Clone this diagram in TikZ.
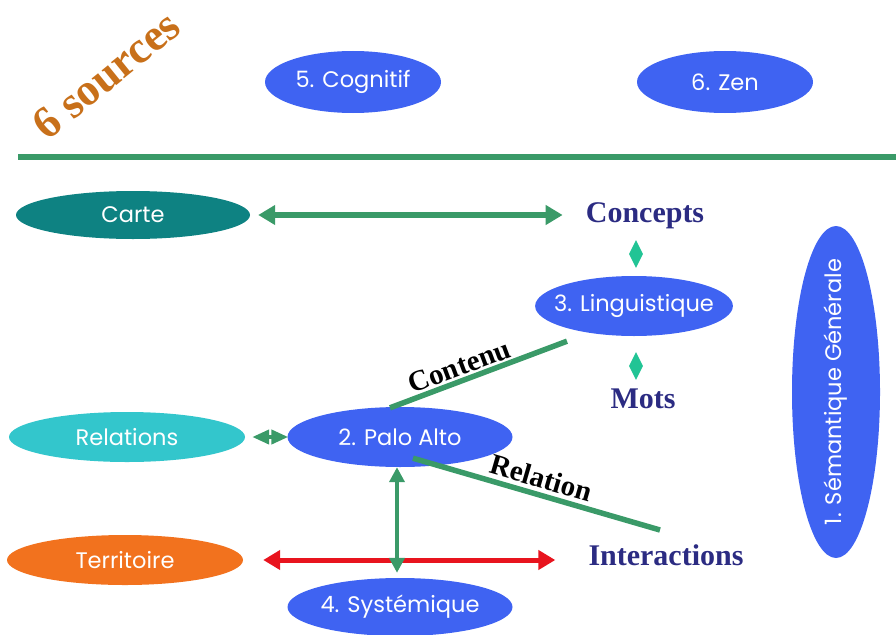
\documentclass[tikz,border=0pt]{standalone}
\usepackage{fontspec}
\setmainfont{Liberation Serif}
\newfontfamily\gothic{Poppins}
\usetikzlibrary{shapes.geometric,arrows.meta}
\definecolor{sblue}{HTML}{3F63F2}
\definecolor{steal}{HTML}{0E8282}
\definecolor{scyan}{HTML}{33C6CC}
\definecolor{sorange}{HTML}{F2721E}
\definecolor{sgreen}{HTML}{3A9A68}
\definecolor{smint}{HTML}{22C495}
\definecolor{sred}{HTML}{E8141E}
\definecolor{snavy}{HTML}{2B2B82}
\definecolor{sbrown}{HTML}{C8701A}
\begin{document}
\begin{tikzpicture}[x=1pt,y=-1pt,
  ell/.style={ellipse, fill=#1, text=white, inner sep=0pt,
    font=\gothic\fontsize{22.5}{26}\selectfont},
  ell/.default=sblue,
  word/.style={text=snavy, font=\bfseries\fontsize{30}{34}\selectfont, inner sep=1pt},
  lab/.style={text=black, font=\bfseries\fontsize{29}{32}\selectfont, inner sep=1pt},
  conn/.style={draw=sgreen, line width=5.5pt},
  dbl/.style={conn, {Triangle[width=19pt,length=17pt]}-{Triangle[width=19pt,length=17pt]}},
  dia/.style={diamond, fill=smint, minimum width=14pt, minimum height=28pt, inner sep=0pt, aspect=0.5}]
\path[use as bounding box] (0,0) rectangle (896,634);

% title
\node[text=sbrown, rotate=39, font=\bfseries\fontsize{45}{48}\selectfont] (title) at (106,75) {6 sources};

% separator
\coordinate (sepL) at (18,157);
\coordinate (sepR) at (896,157);
\draw[draw=sgreen, line width=6pt] (sepL) -- (sepR);

% nodes
\node[ell, minimum width=176pt, minimum height=62pt] (cog) at (353,82) {5. Cognitif};
\node[ell, minimum width=176pt, minimum height=62pt] (zen) at (725,82) {6. Zen};
\node[ell=steal, minimum width=234pt, minimum height=48pt] (carte) at (133,215) {Carte};
\node[word] (concepts) at (645,216) {Concepts};
\node[ell, minimum width=196pt, minimum height=60pt, inner xsep=-10pt] (ling) at (634,306) {3. Linguistique};
\node[word] (mots) at (643,399) {Mots};
\node[ell=scyan, minimum width=236pt, minimum height=50pt] (rel) at (127,437) {Relations};
\node[ell, minimum width=225pt, minimum height=60pt] (pa) at (400,437) {2. Palo Alto};
\node[ell=sorange, minimum width=236pt, minimum height=50pt] (terr) at (125,560) {Territoire};
\node[word] (inter) at (666,555) {Interactions};
\node[ell, minimum width=225pt, minimum height=58pt] (sys) at (400,607) {4. Systémique};
\node[ell, minimum width=88pt, minimum height=332pt] (sem) at (836,392) {};
\node[text=white, rotate=90, font=\gothic\fontsize{22.5}{26}\selectfont] (semt) at (sem.center) {1. Sémantique Générale};

% diamonds between concepts / linguistique / mots
\node[dia] (d1) at (636,254) {};
\node[dia] (d2) at (636,366) {};

% connectors
\draw[dbl] ([xshift=8pt]carte.east) -- ([xshift=-22pt]carte.east -| concepts.west);
\draw[conn] ([xshift=-10pt,yshift=-1pt]pa.north) -- ([xshift=-67pt,yshift=-5pt]ling.south)
  node[lab, pos=0.42, above=1pt, sloped] (contenu) {Contenu};
\coordinate (relend) at (660,530);
\draw[conn] ([xshift=13pt,yshift=9pt]pa.south) -- (relend)
  node[lab, pos=0.5, above=3pt, sloped] (relation) {Relation};
\draw[draw=sgreen, line width=4pt, {Triangle[width=14pt,length=17pt]}-{Triangle[width=14pt,length=17pt]}]
  ([xshift=7pt]rel.east) -- ([xshift=1pt]pa.west);
\draw[draw=sred, line width=5pt, {Triangle[width=19pt,length=17pt]}-{Triangle[width=19pt,length=17pt]}]
  ([xshift=20pt]terr.east) -- ([xshift=-32pt]terr.east -| inter.west);
\draw[draw=sgreen, line width=4.5pt, {Triangle[width=15pt,length=15pt]}-{Triangle[width=15pt,length=15pt]}]
  ([xshift=-3pt]pa.south) -- ([xshift=-3pt,yshift=5pt]sys.north);
\end{tikzpicture}
\end{document}
